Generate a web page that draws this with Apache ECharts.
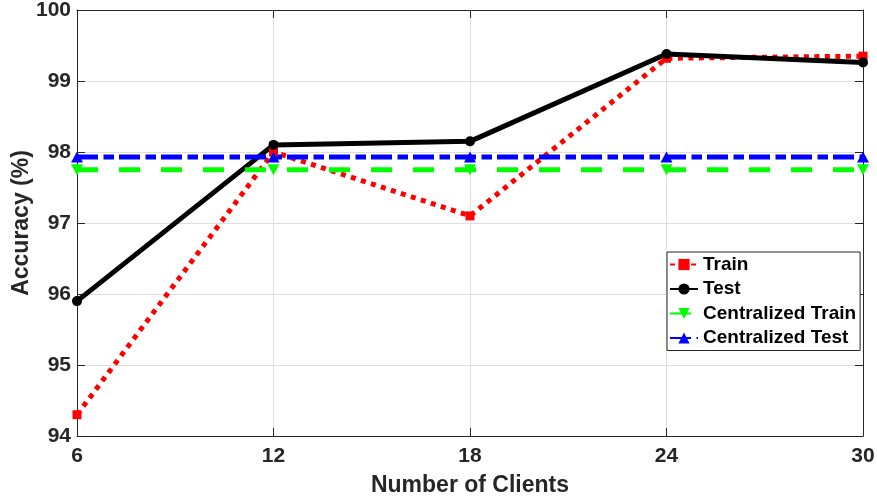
<!DOCTYPE html>
<html>
<head>
<meta charset="utf-8">
<script src="https://cdn.jsdelivr.net/npm/echarts@6/dist/echarts.min.js"></script>
<style>
html,body{margin:0;padding:0;background:#fff;}
#chart{width:877px;height:500px;}
</style>
</head>
<body>
<div id="chart"></div>
<script>
const clients = [6, 12, 18, 24, 30];
const trainAcc = [94.3, 98.0, 97.1, 99.32, 99.35];
const testAcc = [95.9, 98.1, 98.15, 99.38, 99.26];
const centralTrainAcc = [97.75, 97.75, 97.75, 97.75, 97.75];
const centralTestAcc = [97.93, 97.93, 97.93, 97.93, 97.93];
const seriesNames = ['Train', 'Test', 'Centralized Train', 'Centralized Test'];
const xTitle = 'Number of Clients';
const yTitle = 'Accuracy (%)';

const FONT = '"Liberation Sans", Arial, Helvetica, sans-serif';
const TXT = '#262626';
const pairs = arr => clients.map((c, i) => [c, arr[i]]);

const chart = echarts.init(document.getElementById('chart'), null, {renderer: 'canvas'});
const tickStyle = {show: true, inside: true, length: 8, lineStyle: {color: TXT, width: 1}};
chart.setOption({
  animation: false,
  backgroundColor: '#fff',
  textStyle: {fontFamily: FONT},
  grid: {left: 77, right: 14, top: 10, bottom: 64, containLabel: false, outerBoundsMode: 'none'},
  xAxis: [{
    type: 'value', min: 6, max: 30, interval: 6, position: 'bottom',
    name: xTitle, nameLocation: 'middle', nameGap: 38, nameMoveOverlap: false,
    nameTextStyle: {fontSize: 23, fontWeight: 'bold', color: TXT, fontFamily: FONT},
    axisLine: {show: true, lineStyle: {color: TXT, width: 1}},
    axisTick: tickStyle,
    axisLabel: {fontSize: 21, fontWeight: 'bold', color: TXT, margin: 10, fontFamily: FONT},
    splitLine: {show: true, lineStyle: {color: '#dedede', width: 1}}
  }, {
    type: 'value', min: 6, max: 30, interval: 6, position: 'top',
    axisLine: {show: true, lineStyle: {color: TXT, width: 1}},
    axisTick: tickStyle, axisLabel: {show: false}, splitLine: {show: false}
  }],
  yAxis: [{
    type: 'value', min: 94, max: 100, interval: 1, position: 'left',
    name: yTitle, nameLocation: 'middle', nameGap: 44, nameMoveOverlap: false,
    nameTextStyle: {fontSize: 23, fontWeight: 'bold', color: TXT, fontFamily: FONT},
    axisLine: {show: true, lineStyle: {color: TXT, width: 1}},
    axisTick: tickStyle,
    axisLabel: {fontSize: 21, fontWeight: 'bold', color: TXT, margin: 6, fontFamily: FONT},
    splitLine: {show: true, lineStyle: {color: '#dedede', width: 1}}
  }, {
    type: 'value', min: 94, max: 100, interval: 1, position: 'right',
    axisLine: {show: true, lineStyle: {color: TXT, width: 1}},
    axisTick: tickStyle, axisLabel: {show: false}, splitLine: {show: false}
  }],
  legend: {
    orient: 'vertical', left: 667, top: 252,
    padding: [3, 4, 3, 2], itemGap: 5.5, itemWidth: 28, itemHeight: 14,
    backgroundColor: '#fff', borderColor: TXT, borderWidth: 1,
    textStyle: {fontSize: 19, fontWeight: 'bold', color: '#000', fontFamily: FONT, lineHeight: 19},
    data: seriesNames
  },
  series: [{
    name: seriesNames[0], type: 'line', data: pairs(trainAcc),
    symbol: 'rect', symbolSize: 9, showAllSymbol: true,
    itemStyle: {color: '#ff0000'},
    lineStyle: {color: '#ff0000', width: 5, type: [5, 5.5], cap: 'butt'}
  }, {
    name: seriesNames[1], type: 'line', data: pairs(testAcc),
    symbol: 'circle', symbolSize: 10,
    itemStyle: {color: '#000000'},
    lineStyle: {color: '#000000', width: 5}
  }, {
    name: seriesNames[2], type: 'line', data: pairs(centralTrainAcc),
    symbol: 'triangle', symbolRotate: 180, symbolSize: [12, 11],
    itemStyle: {color: '#00ff00'},
    lineStyle: {color: '#00ff00', width: 5, type: [21, 21], cap: 'butt'}
  }, {
    name: seriesNames[3], type: 'line', data: pairs(centralTestAcc),
    symbol: 'triangle', symbolSize: [12, 11],
    itemStyle: {color: '#0000ff'},
    lineStyle: {color: '#0000ff', width: 5, type: [21, 5.5, 10.5, 5], cap: 'butt'}
  }]
});
</script>
</body>
</html>
